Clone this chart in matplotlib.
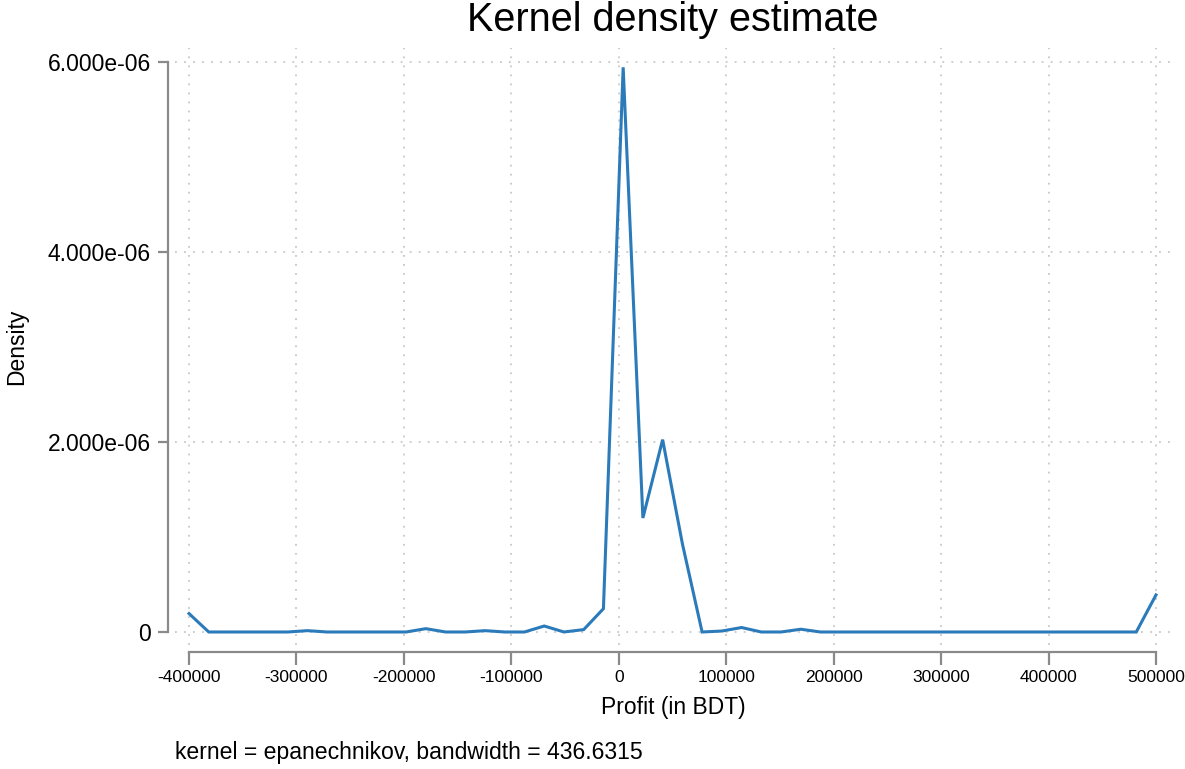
import matplotlib
matplotlib.use("Agg")
import matplotlib.pyplot as plt
import numpy as np

# kdensity evaluated at 50 points between -400000 and 500000
x_start = -400000
x_stop = 500000
n_points = 50
density = [
    0.194e-6, 0.0, 0.0, 0.0, 0.0, 0.0, 0.014e-6, 0.0, 0.0, 0.0,
    0.0, 0.0, 0.035e-6, 0.0, 0.0, 0.014e-6, 0.0, 0.0, 0.063e-6, 0.0,
    0.025e-6, 0.245e-6, 5.945e-6, 1.20e-6, 2.025e-6, 0.93e-6, 0.0, 0.01e-6, 0.047e-6, 0.0,
    0.0, 0.029e-6, 0.0, 0.0, 0.0, 0.0, 0.0, 0.0, 0.0, 0.0,
    0.0, 0.0, 0.0, 0.0, 0.0, 0.0, 0.0, 0.0, 0.0, 0.39e-6,
]
xticks = [-400000, -300000, -200000, -100000, 0, 100000, 200000, 300000, 400000, 500000]
yticks = [0, 2e-6, 4e-6, 6e-6]
ytick_labels = ["0", "2.000e-06", "4.000e-06", "6.000e-06"]

title = "Kernel density estimate"
xlabel = "Profit (in BDT)"
ylabel = "Density"
note = "kernel = epanechnikov, bandwidth = 436.6315"

plt.rcParams["font.family"] = ["Liberation Sans", "DejaVu Sans"]

W, H = 1185, 769
fig = plt.figure(figsize=(W / 100, H / 100), dpi=100)
# axes box in pixels: left 175, right 1171, top 48, bottom 645
ax = fig.add_axes([175 / W, 1 - 645 / H, (1171 - 175) / W, (645 - 48) / H])

grid_x = np.linspace(x_start, x_stop, n_points)
ax.plot(grid_x, density, color="#2b7bba", lw=2.2, solid_joinstyle="miter")

ax.set_xlim(-413030, 513970)
ax.set_ylim(-0.137e-6, 6.148e-6)

ax.set_xticks(xticks)
ax.set_xticklabels([str(t) for t in xticks])
ax.set_yticks(yticks)
ax.set_yticklabels(ytick_labels)

gray = "#8a8a8a"
for side in ["top", "right"]:
    ax.spines[side].set_visible(False)
ax.spines["left"].set_position(("outward", 5))
ax.spines["bottom"].set_position(("outward", 5))
ax.spines["left"].set_bounds(0, 6e-6)
ax.spines["bottom"].set_bounds(x_start, x_stop)
for side in ["left", "bottom"]:
    ax.spines[side].set_color(gray)
    ax.spines[side].set_linewidth(1.6)

ax.tick_params(axis="y", length=7.5, width=1.6, color=gray, pad=5, labelsize=16.5)
ax.tick_params(axis="x", length=9, width=1.6, color=gray, pad=4, labelsize=12.5)

ax.grid(True, color="#c8c8c8", linestyle=(0, (1, 4)), linewidth=1.3)
ax.set_axisbelow(True)

ax.set_xlabel(xlabel, fontsize=16.5, labelpad=8)
ax.set_ylabel(ylabel, fontsize=16.5, labelpad=14)
fig.text(673 / W, 1 - 20 / H, title, fontsize=28.5, ha="center", va="center")
fig.text(175 / W, 1 - 752 / H, note, fontsize=16.6, ha="left", va="center")

fig.savefig("out.png", dpi=100)
